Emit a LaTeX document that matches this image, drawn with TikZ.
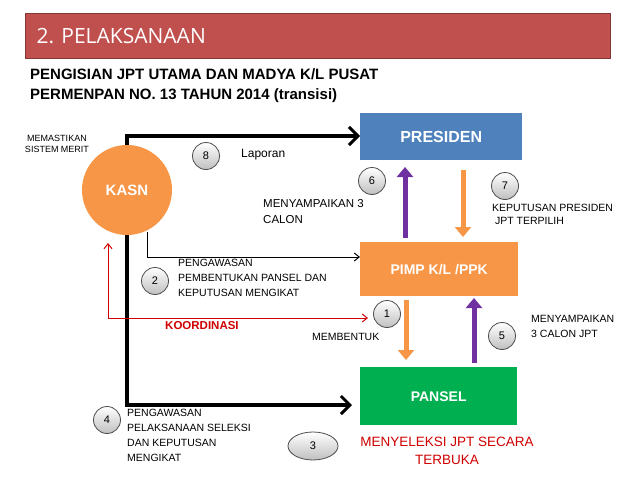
\documentclass[tikz,border=0pt]{standalone}
\usepackage{fontspec}
\setmainfont{Liberation Sans}
\newfontfamily\titlefont{Open Sans}
\usetikzlibrary{arrows.meta,shapes.geometric}
\definecolor{tred}{HTML}{C0504D}
\definecolor{pblue}{HTML}{4F81BD}
\definecolor{porange}{HTML}{F79646}
\definecolor{pgreen}{HTML}{00B050}
\definecolor{ppurple}{HTML}{7030A0}
\definecolor{kred}{HTML}{D00000}
\tikzset{
  box/.style={minimum width=160pt,minimum height=48pt,text=white,font=\bfseries\fontsize{15}{18}\selectfont,inner sep=0},
  num/.style={circle,draw=black!70,line width=0.8pt,top color=white,bottom color=black!25,minimum size=27pt,inner sep=0,font=\fontsize{11}{12}\selectfont},
  lbl/.style={align=left,anchor=north west,inner sep=0,font=\fontsize{10.5}{12.5}\selectfont},
  thick arr/.style={line width=3.5pt,-{Straight Barb[length=9pt,width=18pt,line width=3pt]}},
  fat/.style={line width=5pt,-{Triangle[length=10pt,width=16pt]}},
}
\begin{document}
\begin{tikzpicture}[x=1pt,y=-1pt]
\useasboundingbox (0,0) rectangle (638,479);
\fill[white] (0,0) rectangle (638,479);
\node[fill=tred,draw=tred!70!black,minimum width=585pt,minimum height=45pt,anchor=north west] (bar) at (25,13) {};
\node[anchor=west,text=white,font=\titlefont\fontsize{21}{24}\selectfont] (title) at (33,36) {2. PELAKSANAAN};
\node[anchor=north west,align=left,inner sep=0,font=\bfseries\fontsize{15}{20}\selectfont] (sub) at (30,68) {PENGISIAN JPT UTAMA DAN MADYA K/L PUSAT\\PERMENPAN NO. 13 TAHUN 2014 (transisi)};
\node[box,fill=pblue,minimum width=162pt,minimum height=47pt,anchor=north west] (pres) at (360,113) {\fontsize{16}{18}\selectfont PRESIDEN};
\node[box,fill=porange,minimum width=158pt,minimum height=54pt,anchor=north west] (pimp) at (360,242) {\fontsize{14}{15}\selectfont PIMP K/L /PPK};
\node[box,fill=pgreen,minimum width=157pt,minimum height=58pt,anchor=north west] (pansel) at (360,367) {\fontsize{14}{15}\selectfont PANSEL};
\node[circle,fill=porange,minimum size=90pt,text=white,font=\bfseries\fontsize{15}{18}\selectfont] (kasn) at (127,190) {KASN};
% black arrows
\coordinate (k1) at (127,136);
\coordinate (k2) at (127,405);
\draw[thick arr] (kasn.north) -- (k1) -- (pres.west|-k1);
\draw[thick arr] (kasn.south) -- (k2) -- (352,405);
\coordinate (t1) at (147,232);
\coordinate (t2) at (147,257);
\draw[line width=1pt,-{Straight Barb[length=5pt,width=8pt]}] (t1) -- (t2) -- (pimp.west|-t2);
% red
\coordinate (r0) at (108,318);
\coordinate (r1) at (108,243);
\coordinate (r2) at (368,318);
\draw[kred,line width=1pt,-{Straight Barb[length=5pt,width=8pt]}] (r0) -- (r1);
\draw[kred,line width=1pt,-{Straight Barb[length=5pt,width=8pt]}] (r0) -- (r2);
% vertical arrows
\draw[ppurple,fat] (405,238) -- (405,167);
\draw[ppurple,fat] (474,363) -- (474,298);
\draw[porange,fat] (463,170) -- (463,237);
\draw[porange,fat] (406,300) -- (406,360);
% numbers
\node[num] (n8) at (206,156) {8};
\node[num] (n6) at (372,181) {6};
\node[num] (n7) at (505,186) {7};
\node[num] (n2) at (155,281) {2};
\node[num] (n1) at (387,314) {1};
\node[num] (n5) at (502,336) {5};
\node[num] (n4) at (107,420) {4};
\node[num,ellipse,minimum width=50pt,minimum height=28pt] (n3) at (313,446) {3};
% labels
\node[lbl,align=center,anchor=north,font=\fontsize{9}{11}\selectfont] (m) at (57,135) {MEMASTIKAN\\SISTEM MERIT};
\node[lbl,anchor=west,font=\fontsize{12}{13}\selectfont] (lap) at (241,155) {Laporan};
\node[lbl,font=\fontsize{11.5}{16}\selectfont] (l6) at (263,199) {MENYAMPAIKAN 3\\CALON};
\node[lbl] (l7) at (492,204) {KEPUTUSAN PRESIDEN\\\ JPT TERPILIH};
\node[lbl,font=\fontsize{10.5}{15}\selectfont] (l2) at (178,259) {PENGAWASAN\\PEMBENTUKAN PANSEL DAN\\KEPUTUSAN MENGIKAT};
\node[lbl,anchor=north west,text=kred,font=\bfseries\fontsize{11.5}{13}\selectfont] (ko) at (165,321) {KOORDINASI};
\node[lbl] (l1) at (312,333) {MEMBENTUK};
\node[lbl,font=\fontsize{10.5}{15}\selectfont] (l5) at (531,315) {MENYAMPAIKAN\\3 CALON JPT};
\node[lbl,font=\fontsize{10.5}{15}\selectfont] (l4) at (127,409) {PENGAWASAN\\PELAKSANAAN SELEKSI\\DAN KEPUTUSAN\\MENGIKAT};
\node[lbl,align=center,anchor=north,text=kred,font=\fontsize{13.5}{18}\selectfont] (l3) at (447,437) {MENYELEKSI JPT SECARA\\TERBUKA};
\end{tikzpicture}
\end{document}
